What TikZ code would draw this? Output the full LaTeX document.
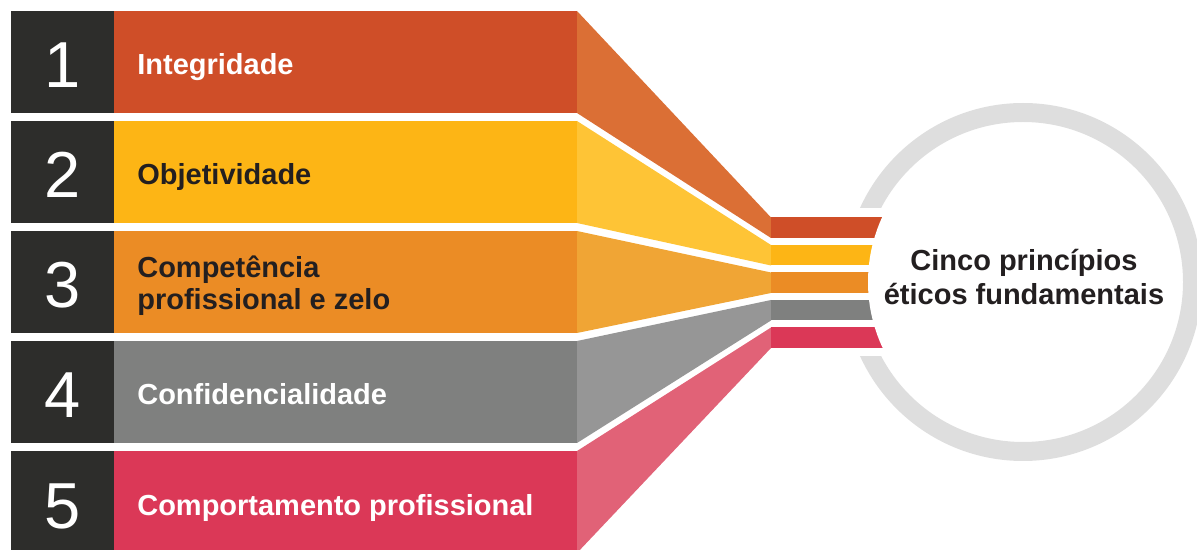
\documentclass[tikz,border=0pt]{standalone}
\usepackage{fontspec}
\setmainfont{Liberation Sans}
\usepackage{xcolor}
\usetikzlibrary{positioning}
\definecolor{numbox}{HTML}{2D2D2B}
\definecolor{inktext}{HTML}{231F20}
\definecolor{ringgray}{HTML}{DEDEDE}
\definecolor{barA}{HTML}{CF4E28}
\definecolor{fanA}{HTML}{DB6F35}
\definecolor{barB}{HTML}{FDB515}
\definecolor{fanB}{HTML}{FEC436}
\definecolor{barC}{HTML}{EB8C25}
\definecolor{fanC}{HTML}{F0A535}
\definecolor{barD}{HTML}{7F807F}
\definecolor{fanD}{HTML}{969696}
\definecolor{barE}{HTML}{DB3857}
\definecolor{fanE}{HTML}{E16277}
\tikzset{
  numlabel/.style={text=white, anchor=base, inner sep=0pt, font=\fontsize{37}{37}\selectfont},
  rowlabel/.style={anchor=base west, inner sep=0pt, align=left, font=\bfseries\fontsize{16.5}{18.5}\selectfont},
  titlelabel/.style={anchor=base, inner sep=0pt, align=center, text=inktext, font=\bfseries\fontsize{16.5}{19.6}\selectfont}
}

\begin{document}
\begin{tikzpicture}[x=0.02cm,y=-0.02cm]
\useasboundingbox (0,0) rectangle (1197,550);
\clip (0,0) rectangle (1197,550);
% ring
\fill[ringgray, even odd rule] (1023,282) circle[radius=179] (1023,282) circle[radius=160];
\fill[white] (771,208) rectangle (1023,356);
% rows
\fill[numbox] (11,11) rectangle (114,113); %1
\fill[barA] (114,11) rectangle (577,113);
\fill[fanA] (577,11) -- (771,217.5) -- (771,238) -- (577,113) -- cycle;
\fill[barA] (771,217.5) rectangle (1023,238);
\fill[numbox] (11,121) rectangle (114,223); %2
\fill[barB] (114,121) rectangle (577,223);
\fill[fanB] (577,121) -- (771,245) -- (771,265.5) -- (577,223) -- cycle;
\fill[barB] (771,245) rectangle (1023,265.5);
\fill[numbox] (11,231) rectangle (114,333); %3
\fill[barC] (114,231) rectangle (577,333);
\fill[fanC] (577,231) -- (771,272.5) -- (771,293) -- (577,333) -- cycle;
\fill[barC] (771,272.5) rectangle (1023,293);
\fill[numbox] (11,341) rectangle (114,443); %4
\fill[barD] (114,341) rectangle (577,443);
\fill[fanD] (577,341) -- (771,300) -- (771,320.5) -- (577,443) -- cycle;
\fill[barD] (771,300) rectangle (1023,320.5);
\fill[numbox] (11,451) rectangle (114,553); %5
\fill[barE] (114,451) rectangle (577,553);
\fill[fanE] (577,451) -- (771,327.5) -- (771,348) -- (577,553) -- cycle;
\fill[barE] (771,327.5) rectangle (1023,348);
% centre
\fill[white] (1023,282) circle[radius=155];
\node[titlelabel] (title) at (1024,305) {Cinco princípios\\éticos fundamentais};
% texts
\node[numlabel] (n1) at (62.5,88) {1};
\node[numlabel] (n2) at (62.5,198) {2};
\node[numlabel] (n3) at (62.5,308) {3};
\node[numlabel] (n4) at (62.5,418) {4};
\node[numlabel] (n5) at (62.5,528) {5};
\node[rowlabel, text=white] (l1) at (137,75) {Integridade};
\node[rowlabel, text=inktext] (l2) at (137,185) {Objetividade};
\node[rowlabel, text=inktext] (l3) at (137,310) {Competência\\profissional e zelo};
\node[rowlabel, text=white] (l4) at (137,405) {Confidencialidade};
\node[rowlabel, text=white] (l5) at (137,515) {Comportamento profissional};
\end{tikzpicture}
\end{document}
